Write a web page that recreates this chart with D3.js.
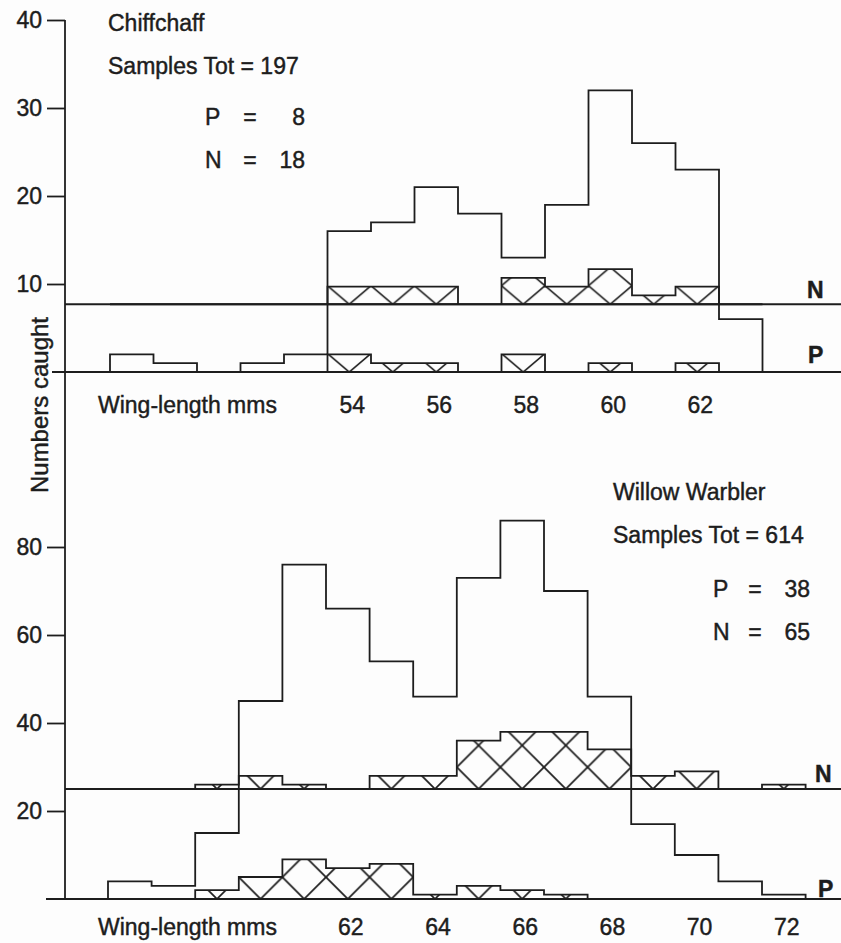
<!DOCTYPE html>
<html>
<head>
<meta charset="utf-8">
<title>Chiffchaff / Willow Warbler wing-lengths</title>
<script src="https://cdn.jsdelivr.net/npm/d3@7/dist/d3.min.js"></script>
<style>
  body { margin: 0; background: #fdfdfd; }
  svg { display: block; font-family: "Liberation Sans", Arial, sans-serif; }
  svg text { stroke: #1d1d1d; stroke-width: 0.45px; }
</style>
</head>
<body>
<div id="chart"></div>
<script>
// Chiffchaff - counts per wing-length (mm)
const chiffWing   = [49, 50, 51, 52, 53, 54, 55, 56, 57, 58, 59, 60, 61, 62, 63];
const chiffTotal  = [2, 1, 0, 1, 2, 16, 17, 21, 18, 13, 19, 32, 26, 23, 6];
const chiffP      = [0, 0, 0, 0, 0, 2, 1, 1, 0, 2, 0, 1, 0, 1, 0];
const chiffN      = [0, 0, 0, 0, 0, 2, 2, 2, 0, 3, 2, 4, 1, 2, 0];
const chiffTicks  = [10, 20, 30, 40];
const chiffLabels = [54, 56, 58, 60, 62];

// Willow Warbler
const willowWing   = [57, 58, 59, 60, 61, 62, 63, 64, 65, 66, 67, 68, 69, 70, 71, 72];
const willowTotal  = [4, 3, 15, 45, 76, 66, 54, 46, 73, 86, 70, 46, 17, 10, 4, 1];
const willowP      = [0, 0, 2, 5, 9, 7, 8, 1, 3, 2, 1, 0, 0, 0, 0, 0];
const willowN      = [0, 0, 1, 3, 1, 0, 3, 3, 11, 13, 13, 9, 3, 4, 0, 1];
const willowTicks  = [20, 40, 60, 80];
const willowLabels = [62, 64, 66, 68, 70, 72];

const width = 841, height = 943;
const ink = "#1d1d1d";
const axisX = 65;
const sw = 1.8;

const svg = d3.select("#chart").append("svg")
    .attr("width", width)
    .attr("height", height);

const defs = svg.append("defs");

// vertical axis shared by both panels
svg.append("line")
    .attr("x1", axisX).attr("x2", axisX)
    .attr("y1", 20).attr("y2", 899)
    .attr("stroke", ink).attr("stroke-width", sw);

svg.append("text")
    .attr("transform", "translate(48,405) rotate(-90)")
    .attr("text-anchor", "middle")
    .attr("font-size", 24)
    .attr("fill", ink)
    .text("Numbers caught");

const panels = [
    {
        id: "chiff", wing: chiffWing, total: chiffTotal, p: chiffP, n: chiffN,
        ticks: chiffTicks, labels: chiffLabels,
        xRange: [110, 762.5], yDomain: [0, 40], yRange: [372, 20],
        nBase: 7.7, hatchRatio: 0.85, labelY: 413, baseStart: 52,
        nLab: [807, 298], pLab: [808, 363],
        texts: [
            { t: "Chiffchaff", x: 108, y: 31 },
            { t: "Samples Tot = 197", x: 108, y: 74 },
            { t: "P", x: 205, y: 125 }, { t: "=", x: 250, y: 125, a: "middle" }, { t: "8", x: 305, y: 125, a: "end" },
            { t: "N", x: 205, y: 168 }, { t: "=", x: 250, y: 168, a: "middle" }, { t: "18", x: 305, y: 168, a: "end" }
        ]
    },
    {
        id: "willow", wing: willowWing, total: willowTotal, p: willowP, n: willowN,
        ticks: willowTicks, labels: willowLabels,
        xRange: [108, 805.6], yDomain: [0, 80], yRange: [899, 547],
        nBase: 25, hatchRatio: 1.0, labelY: 935, baseStart: 46,
        nLab: [815, 782], pLab: [818, 897],
        texts: [
            { t: "Willow Warbler", x: 613, y: 500 },
            { t: "Samples Tot = 614", x: 613, y: 543 },
            { t: "P", x: 713, y: 597 }, { t: "=", x: 755, y: 597, a: "middle" }, { t: "38", x: 810, y: 597, a: "end" },
            { t: "N", x: 713, y: 640 }, { t: "=", x: 755, y: 640, a: "middle" }, { t: "65", x: 810, y: 640, a: "end" }
        ]
    }
];

// cross-hatch pattern, anchored so that a crossing sits on a bin centre at the baseline
function makeHatch(id, x0, y0, w, h) {
    const pat = defs.append("pattern")
        .attr("id", id)
        .attr("patternUnits", "userSpaceOnUse")
        .attr("x", x0).attr("y", y0)
        .attr("width", w).attr("height", h);
    pat.append("rect").attr("width", w).attr("height", h).attr("fill", "#fdfdfd");
    [-1, 0, 1].forEach(k => {
        pat.append("line")
            .attr("x1", k * w - w).attr("y1", -h)
            .attr("x2", k * w + 2 * w).attr("y2", 2 * h)
            .attr("stroke", ink).attr("stroke-width", 1.7);
        pat.append("line")
            .attr("x1", k * w + 2 * w).attr("y1", -h)
            .attr("x2", k * w - w).attr("y2", 2 * h)
            .attr("stroke", ink).attr("stroke-width", 1.7);
    });
}

function stepPoints(wing, values, base, x, y) {
    const pts = [[x(wing[0] - 0.5), y(base)]];
    wing.forEach((w, i) => {
        pts.push([x(w - 0.5), y(base + values[i])]);
        pts.push([x(w + 0.5), y(base + values[i])]);
    });
    pts.push([x(wing[wing.length - 1] + 0.5), y(base)]);
    return pts;
}

const line = d3.line();

panels.forEach(pn => {
    const x = d3.scaleLinear()
        .domain([pn.wing[0] - 0.5, pn.wing[pn.wing.length - 1] + 0.5])
        .range(pn.xRange);
    const y = d3.scaleLinear().domain(pn.yDomain).range(pn.yRange);
    const binW = x(1) - x(0);
    const g = svg.append("g");

    makeHatch(pn.id + "P", x(pn.wing[0]), y(0), binW, binW * pn.hatchRatio);
    makeHatch(pn.id + "N", x(pn.wing[0]), y(pn.nBase), binW, binW * pn.hatchRatio);

    // hatched P (on baseline) and N (on raised baseline)
    g.append("path")
        .attr("d", line(stepPoints(pn.wing, pn.p, 0, x, y)) + "Z")
        .attr("fill", `url(#${pn.id}P)`)
        .attr("stroke", ink).attr("stroke-width", sw);
    g.append("path")
        .attr("d", line(stepPoints(pn.wing, pn.n, pn.nBase, x, y)) + "Z")
        .attr("fill", `url(#${pn.id}N)`)
        .attr("stroke", ink).attr("stroke-width", sw);

    // total sample outline
    g.append("path")
        .attr("d", line(stepPoints(pn.wing, pn.total, 0, x, y)))
        .attr("fill", "none")
        .attr("stroke", ink).attr("stroke-width", sw);

    // baselines
    g.append("line")
        .attr("x1", pn.baseStart).attr("x2", width)
        .attr("y1", y(0)).attr("y2", y(0))
        .attr("stroke", ink).attr("stroke-width", sw);
    g.append("line")
        .attr("x1", axisX).attr("x2", width)
        .attr("y1", y(pn.nBase)).attr("y2", y(pn.nBase))
        .attr("stroke", ink).attr("stroke-width", sw);

    // y axis ticks
    const ax = g.append("g")
        .attr("transform", `translate(${axisX},0)`)
        .call(d3.axisLeft(y).tickValues(pn.ticks).tickSize(18).tickPadding(5));
    ax.select(".domain").remove();
    ax.selectAll(".tick line").attr("stroke", ink).attr("stroke-width", sw);
    ax.selectAll(".tick text")
        .attr("font-size", 23)
        .attr("font-family", "Liberation Sans, Arial, sans-serif")
        .attr("fill", ink);

    // x labels
    g.append("text")
        .attr("x", 98).attr("y", pn.labelY)
        .attr("font-size", 23).attr("fill", ink)
        .text("Wing-length mms");
    g.selectAll("text.xl")
        .data(pn.labels)
        .join("text")
        .attr("class", "xl")
        .attr("x", d => x(d) + 3)
        .attr("y", pn.labelY)
        .attr("text-anchor", "middle")
        .attr("font-size", 23).attr("fill", ink)
        .text(d => d);

    // species annotations
    g.selectAll("text.ann")
        .data(pn.texts)
        .join("text")
        .attr("class", "ann")
        .attr("x", d => d.x).attr("y", d => d.y)
        .attr("text-anchor", d => d.a || "start")
        .attr("font-size", 23).attr("fill", ink)
        .text(d => d.t);

    // N / P markers on the right
    g.append("text")
        .attr("x", pn.nLab[0]).attr("y", pn.nLab[1])
        .attr("font-size", 23).attr("font-weight", "bold").attr("fill", ink)
        .text("N");
    g.append("text")
        .attr("x", pn.pLab[0]).attr("y", pn.pLab[1])
        .attr("font-size", 23).attr("font-weight", "bold").attr("fill", ink)
        .text("P");
});
</script>
</body>
</html>
